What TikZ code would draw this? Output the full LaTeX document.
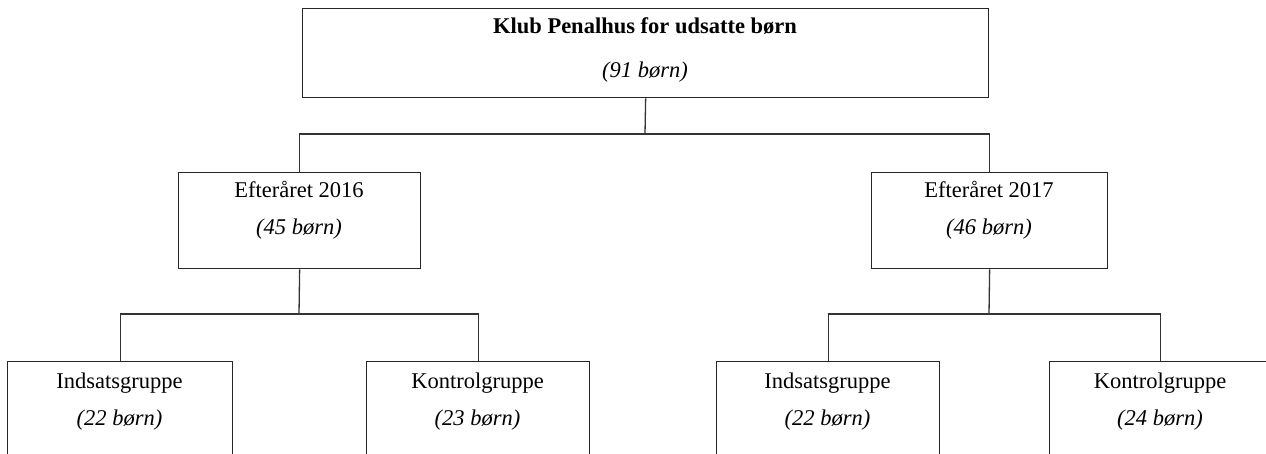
\documentclass[tikz,border=0pt]{standalone}
\usepackage{fontspec}
\setmainfont{Liberation Serif}
\begin{document}
\begin{tikzpicture}[x=1pt,y=-1pt,
  box/.style={draw=black!85,line width=1.3pt,rectangle,inner sep=0pt,anchor=north west},
  lbl/.style={anchor=base,inner sep=0pt,font=\fontsize{22.5}{26}\selectfont},
  conn/.style={draw=black!80,line width=1.3pt}]
\useasboundingbox (0,0) rectangle (1266,454);
\clip (0,0) rectangle (1266,454);
\fill[white] (0,0) rectangle (1266,454);
% boxes
\node[box,minimum width=686pt,minimum height=89pt] (top) at (302,8) {};
\node[box,minimum width=242pt,minimum height=96pt] (m1) at (178,172) {};
\node[box,minimum width=236pt,minimum height=96pt] (m2) at (871,172) {};
\node[box,minimum width=225pt,minimum height=130pt] (b1) at (7,361) {};
\node[box,minimum width=223pt,minimum height=130pt] (b2) at (366,361) {};
\node[box,minimum width=223pt,minimum height=130pt] (b3) at (716,361) {};
\node[box,minimum width=222pt,minimum height=130pt] (b4) at (1049,361) {};
% texts
\node[lbl,font=\fontsize{22.5}{26}\selectfont\bfseries] (t0a) at (645,34) {Klub Penalhus for udsatte børn};
\node[lbl,font=\fontsize{22.5}{26}\selectfont\itshape] (t0b) at (645,78) {(91 børn)};
\node[lbl] (t1a) at (299,198) {Efteråret 2016};
\node[lbl,font=\fontsize{22.5}{26}\selectfont\itshape] (t1b) at (299,235) {(45 børn)};
\node[lbl] (t2a) at (989,198) {Efteråret 2017};
\node[lbl,font=\fontsize{22.5}{26}\selectfont\itshape] (t2b) at (989,235) {(46 børn)};
\node[lbl] (t3a) at (119.5,388) {Indsatsgruppe};
\node[lbl,font=\fontsize{22.5}{26}\selectfont\itshape] (t3b) at (119.5,425) {(22 børn)};
\node[lbl] (t4a) at (477.5,388) {Kontrolgruppe};
\node[lbl,font=\fontsize{22.5}{26}\selectfont\itshape] (t4b) at (477.5,425) {(23 børn)};
\node[lbl] (t5a) at (827.5,388) {Indsatsgruppe};
\node[lbl,font=\fontsize{22.5}{26}\selectfont\itshape] (t5b) at (827.5,425) {(22 børn)};
\node[lbl] (t6a) at (1160,388) {Kontrolgruppe};
\node[lbl,font=\fontsize{22.5}{26}\selectfont\itshape] (t6b) at (1160,425) {(24 børn)};
% connectors
\coordinate (j0) at (645,134);
\coordinate (j1) at (299,314);
\coordinate (j2) at (989,314);
\draw[conn] (top.south) -- (j0);
\draw[conn] (j0) -| (m1.north);
\draw[conn] (j0) -| (m2.north);
\draw[conn] (m1.south) -- (j1);
\draw[conn] (j1) -| (b1.north);
\draw[conn] (j1) -| (b2.north);
\draw[conn] (m2.south) -- (j2);
\draw[conn] (j2) -| (b3.north);
\draw[conn] (j2) -| (b4.north);
\end{tikzpicture}
\end{document}
